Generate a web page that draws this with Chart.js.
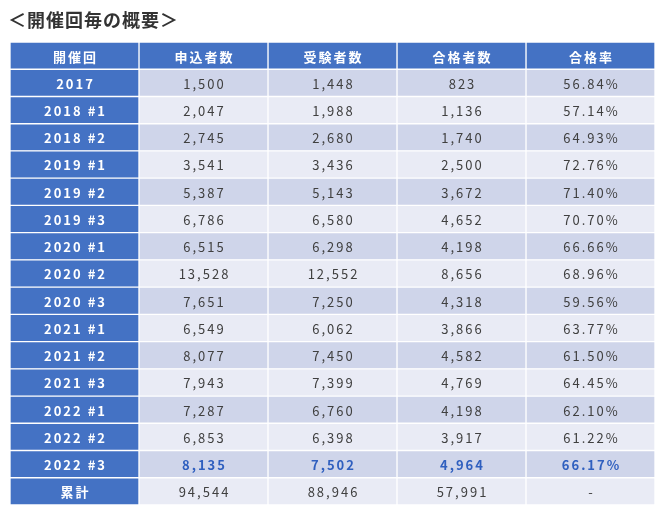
<!DOCTYPE html>
<html><head><meta charset="utf-8">
<script src="https://cdn.jsdelivr.net/npm/chart.js@4"></script>
<style>html,body{margin:0;padding:0;background:#fff}#wrap{width:666px;height:513px}</style>
</head><body><div id="wrap"><canvas id="c"></canvas></div>
<script>
const titleText = '＜開催回毎の概要＞';
const headers = ['開催回','申込者数','受験者数','合格者数','合格率'];
const rounds = ['2017','2018 #1','2018 #2','2019 #1','2019 #2','2019 #3','2020 #1','2020 #2','2020 #3','2021 #1','2021 #2','2021 #3','2022 #1','2022 #2','2022 #3','累計'];
const applicants = [1500,2047,2745,3541,5387,6786,6515,13528,7651,6549,8077,7943,7287,6853,8135,94544];
const examinees = [1448,1988,2680,3436,5143,6580,6298,12552,7250,6062,7450,7399,6760,6398,7502,88946];
const passers = [823,1136,1740,2500,3672,4652,4198,8656,4318,3866,4582,4769,4198,3917,4964,57991];
const passRate = [56.84,57.14,64.93,72.76,71.40,70.70,66.66,68.96,59.56,63.77,61.50,64.45,62.10,61.22,66.17,null];
const highlightRow = '2022 #3';

const rowLabels = ['__header__', ...rounds];
const fmt = n => n.toLocaleString('en-US');
function cellText(r, c) {
  if (r === 0) return headers[c];
  const i = r - 1;
  if (c === 0) return rounds[i];
  if (c === 1) return fmt(applicants[i]);
  if (c === 2) return fmt(examinees[i]);
  if (c === 3) return fmt(passers[i]);
  return passRate[i] == null ? '-' : passRate[i].toFixed(2) + '%';
}
const BLUE = '#4472c4', DARK = '#cfd5ea', LIGHT = '#e9ebf5';
function cellBg(r, c) {
  if (r === 0 || c === 0) return BLUE;
  return (r - 1) % 2 === 0 ? DARK : LIGHT;
}
const datasets = headers.map((h, c) => ({
  label: h,
  data: rowLabels.map(() => [c, c + 1]),
  backgroundColor: rowLabels.map((_, r) => cellBg(r, c)),
  borderColor: '#ffffff', borderWidth: 1, borderSkipped: false,
  barPercentage: 1, categoryPercentage: 1, grouped: false
}));

const textPlugin = {
  id: 'cellText',
  afterDatasetsDraw(chart) {
    const ctx = chart.ctx;
    ctx.save();
    ctx.textAlign = 'center'; ctx.textBaseline = 'middle';
    ctx.letterSpacing = '2px';
    chart.data.datasets.forEach((ds, c) => {
      chart.getDatasetMeta(c).data.forEach((el, r) => {
        const x = (el.x + el.base) / 2, y = el.y;
        const hdr = r === 0 || c === 0;
        const hl = r > 0 && rounds[r - 1] === highlightRow;
        ctx.font = (hdr || hl ? 'bold ' : '') + '13px "Noto Sans CJK JP", "Noto Sans", sans-serif';
        ctx.fillStyle = hdr ? '#ffffff' : (hl ? '#2f5fbf' : '#404040');
        ctx.fillText(cellText(r, c), x + 1, y + 1);
      });
    });
    ctx.letterSpacing = '1px';
    ctx.textAlign = 'left';
    ctx.font = 'bold 18px "Noto Sans CJK JP", sans-serif';
    ctx.fillStyle = '#333333';
    ctx.fillText(titleText, 8, 20);
    ctx.restore();
  }
};

new Chart(document.getElementById('c'), {
  type: 'bar',
  data: { labels: rowLabels, datasets },
  options: {
    indexAxis: 'y', responsive: true, maintainAspectRatio: false, animation: false,
    layout: { padding: { left: 10, right: 11, top: 42, bottom: 8 } },
    plugins: { legend: { display: false }, tooltip: { enabled: false }, title: { display: false } },
    scales: {
      x: { type: 'linear', min: 0, max: 5, display: false },
      y: { type: 'category', display: false, offset: true }
    }
  },
  plugins: [textPlugin]
});
</script></body></html>
